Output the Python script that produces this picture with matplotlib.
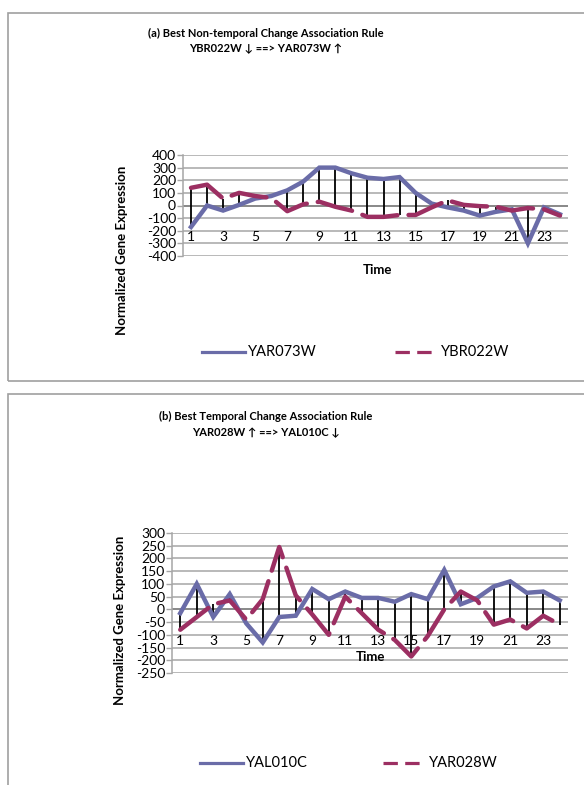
import matplotlib
matplotlib.use('Agg')
from matplotlib import pyplot as plt
from matplotlib.lines import Line2D
from matplotlib.patches import Rectangle
import numpy as np

plt.rcParams['font.family'] = ['Lato', 'DejaVu Sans']

W, H = 584, 785

time = np.arange(1, 25)

# panel (a): best non-temporal change association rule
yar073w = [-170, 0, -40, 5, 55, 75, 120, 190, 300, 300, 255, 220,
           210, 225, 100, 15, -15, -40, -80, -50, -30, -300, -15, -70]
ybr022w = [140, 165, 55, 100, 75, 60, -45, 10, 30, -10, -40, -90,
           -90, -75, -75, -15, 40, 5, -5, -10, -40, -20, -30, -80]

# panel (b): best temporal change association rule
yal010c = [-15, 100, -30, 60, -55, -130, -30, -25, 80, 40, 70, 45,
           45, 30, 60, 40, 155, 20, 45, 90, 110, 65, 70, 35]
yar028w = [-80, -30, 20, 35, -40, 40, 245, 55, -20, -100, 50, -15,
           -80, -120, -185, -105, 0, 70, 35, -60, -40, -75, -25, -60]

xticks = [1, 3, 5, 7, 9, 11, 13, 15, 17, 19, 21, 23]

BLUE = '#6a6ca8'
RED = '#9c2f62'
GRID = '#a6a6a6'


def fx(px):
    return px / W


def fy(py):
    return 1 - py / H


def draw_panel(fig, box, title, s1, s2, n1, n2, ylim, ystep, lab_y,
               time_xy, ylab_xy, leg_y, leg_x):
    left, top, right, bottom = box
    ax = fig.add_axes([fx(left), fy(bottom), fx(right - left),
                       (bottom - top) / H])
    yt = np.arange(ylim[0], ylim[1] + 1, ystep)
    ax.set_ylim(ylim)
    ax.set_xlim(0.5, 24.5)
    ax.set_yticks(yt)
    ax.set_yticklabels([str(v) for v in yt], fontsize=10)
    for v in yt:
        ax.axhline(v, color=GRID, lw=1.1, zorder=0)
    ax.axhline(0, color='#868686', lw=1.3, zorder=0)

    lo = np.minimum(s1, s2)
    hi = np.maximum(s1, s2)
    ax.vlines(time, lo, hi, color='black', lw=1.3, zorder=1)
    ax.plot(time, s1, color=BLUE, lw=3.2, solid_joinstyle='miter', zorder=2)
    ax.plot(time, s2, color=RED, lw=3.2, dashes=(8, 2.5),
            dash_capstyle='round', zorder=3)

    for s in ['top', 'right']:
        ax.spines[s].set_visible(False)
    ax.spines['left'].set_color(GRID)
    ax.spines['left'].set_linewidth(1.1)
    ax.spines['bottom'].set_position(('data', lab_y))
    ax.spines['bottom'].set_visible(False)
    ax.tick_params(axis='y', length=4, width=1, color=GRID, pad=1)
    ax.set_xticks(xticks)
    ax.set_xticklabels([str(v) for v in xticks], fontsize=10)
    ax.tick_params(axis='x', length=0, pad=0)
    ax.patch.set_alpha(0)

    fig.text(fx(time_xy[0]), fy(time_xy[1]), 'Time', fontsize=9.5,
             fontweight='bold', ha='center', va='center')
    fig.text(fx(ylab_xy[0]), fy(ylab_xy[1]), 'Normalized Gene Expression',
             fontsize=9.5, fontweight='bold', rotation=90,
             ha='center', va='center')

    # legend
    x0 = leg_x[0]
    fig.add_artist(Line2D([fx(x0), fx(x0 + 43)], [fy(leg_y)] * 2,
                          color=BLUE, lw=2.3))
    fig.text(fx(x0 + 46), fy(leg_y), n1, fontsize=10.5, va='center')
    x1 = leg_x[1]
    fig.add_artist(Line2D([fx(x1), fx(x1 + 43)], [fy(leg_y)] * 2,
                          color=RED, lw=2.3, dashes=(4.5, 2.3)))
    fig.text(fx(x1 + 46), fy(leg_y), n2, fontsize=10.5, va='center')

    for line, ty in title:
        fig.text(fx(266), fy(ty), line, fontsize=8, fontweight='bold',
                 ha='center', va='center')
    return ax


fig = plt.figure(figsize=(W / 100, H / 100), dpi=100)

fig.add_artist(Rectangle((fx(8), fy(381)), fx(620), (381 - 13) / H,
                         fill=False, edgecolor='#a0a0a0', lw=1.2))
fig.add_artist(Rectangle((fx(8), fy(820)), fx(620), (820 - 394) / H,
                         fill=False, edgecolor='#a0a0a0', lw=1.2))

draw_panel(fig, (183, 155, 568, 256),
           [('(a) Best Non-temporal Change Association Rule', 33),
            ('YBR022W \u2193 ==> YAR073W \u2191', 49)],
           yar073w, ybr022w, 'YAR073W', 'YBR022W',
           (-400, 400), 100, -200, (377, 270), (122, 250), 352, (202, 395))

draw_panel(fig, (172, 533, 568, 673),
           [('(b) Best Temporal Change Association Rule', 416),
            ('YAR028W \u2191 ==> YAL010C \u2193', 433)],
           yal010c, yar028w, 'YAL010C', 'YAR028W',
           (-250, 300), 50, -100, (370, 657), (120, 620), 763, (200, 383))

fig.savefig('out.png', dpi=100)
